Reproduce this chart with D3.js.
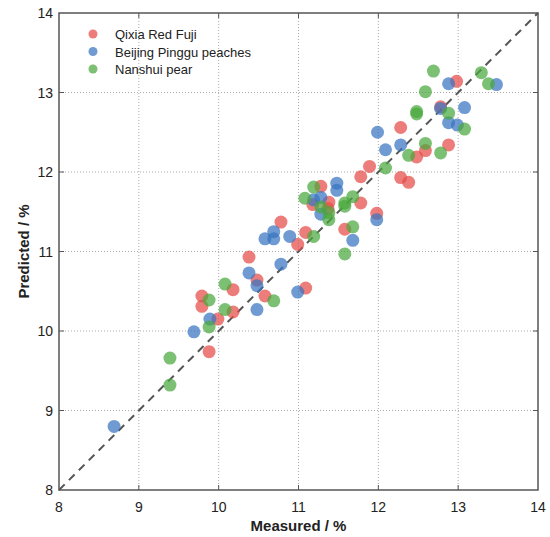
<!DOCTYPE html>
<html>
<head>
<meta charset="utf-8">
<script src="https://cdn.jsdelivr.net/npm/d3@7"></script>
<style>
body { margin: 0; background: #fff; }
text { font-family: "Liberation Sans", Arial, sans-serif; }
</style>
</head>
<body>
<script>
var width = 550, height = 537;
var margin = {top: 13, right: 12, bottom: 47, left: 59};

// series names and values [measured, predicted]
var seriesNames = ['Qixia Red Fuji', 'Beijing Pinggu peaches', 'Nanshui pear'];
var seriesColors = ['#e54b46', '#3775c0', '#4aa73d'];

var redFuji = [[9.79,10.44],[9.79,10.31],[9.99,10.15],[9.88,9.74],[10.18,10.52],[10.18,10.24],
  [10.38,10.93],[10.48,10.64],[10.58,10.44],[10.78,11.37],[11.09,11.24],[10.99,11.09],[11.09,10.54],
  [11.28,11.82],[11.18,11.59],[11.38,11.62],[11.37,11.54],[11.78,11.94],[11.89,12.07],[11.78,11.61],
  [11.98,11.48],[11.58,11.28],[12.98,13.14],[12.78,12.82],[12.28,12.56],[12.88,12.34],[12.59,12.27],
  [12.48,12.19],[12.28,11.93],[12.38,11.87]];
var pingguPeach = [[8.69,8.80],[9.69,9.99],[9.89,10.15],[10.48,10.27],[10.38,10.73],[10.48,10.57],
  [10.78,10.84],[10.99,10.49],[10.58,11.16],[10.69,11.16],[10.69,11.25],[10.89,11.19],[11.48,11.86],
  [11.48,11.77],[11.28,11.68],[11.19,11.65],[11.28,11.47],[11.68,11.14],[11.98,11.40],[11.99,12.50],
  [12.09,12.28],[12.28,12.34],[12.78,12.80],[12.88,12.62],[12.99,12.59],[13.08,12.81],[12.88,13.11],
  [13.48,13.10]];
var nanshuiPear = [[9.39,9.66],[9.39,9.32],[9.88,10.39],[9.88,10.05],[10.08,10.59],[10.08,10.27],
  [10.69,10.38],[11.19,11.19],[11.08,11.67],[11.19,11.81],[11.28,11.56],[11.38,11.49],[11.38,11.40],
  [11.58,11.61],[11.58,11.57],[11.68,11.69],[11.68,11.31],[11.58,10.97],[12.09,12.05],[12.69,13.27],
  [12.59,13.01],[13.29,13.25],[13.38,13.11],[12.48,12.76],[12.48,12.73],[12.88,12.74],[13.08,12.54],
  [12.59,12.36],[12.78,12.24],[12.38,12.21]];
var allSeries = [redFuji, pingguPeach, nanshuiPear];

var ticks = [8, 9, 10, 11, 12, 13, 14];

var svg = d3.select('body').append('svg').attr('width', width).attr('height', height);

var x = d3.scaleLinear().domain([8, 14]).range([margin.left, width - margin.right]);
var y = d3.scaleLinear().domain([8, 14]).range([height - margin.bottom, margin.top]);

// grid
var grid = svg.append('g').attr('stroke', '#aaa').attr('stroke-width', 1).attr('stroke-dasharray', '1,2');
grid.selectAll('.gx').data(ticks.slice(1, -1)).join('line')
  .attr('x1', d => x(d)).attr('x2', d => x(d))
  .attr('y1', y(8)).attr('y2', y(14));
grid.selectAll('.gy').data(ticks.slice(1, -1)).join('line')
  .attr('y1', d => y(d)).attr('y2', d => y(d))
  .attr('x1', x(8)).attr('x2', x(14));

// inward ticks on all sides
var tickG = svg.append('g').attr('stroke', '#555').attr('stroke-width', 1);
ticks.slice(1, -1).forEach(function(t) {
  tickG.append('line').attr('x1', x(t)).attr('x2', x(t)).attr('y1', y(8)).attr('y2', y(8) - 5);
  tickG.append('line').attr('x1', x(t)).attr('x2', x(t)).attr('y1', y(14)).attr('y2', y(14) + 5);
  tickG.append('line').attr('y1', y(t)).attr('y2', y(t)).attr('x1', x(8)).attr('x2', x(8) + 5);
  tickG.append('line').attr('y1', y(t)).attr('y2', y(t)).attr('x1', x(14)).attr('x2', x(14) - 5);
});

// diagonal 1:1 line
svg.append('line')
  .attr('x1', x(8)).attr('y1', y(8)).attr('x2', x(14)).attr('y2', y(14))
  .attr('stroke', '#555').attr('stroke-width', 2).attr('stroke-dasharray', '8,6');

// points
allSeries.forEach(function(data, i) {
  svg.append('g').selectAll('circle').data(data).join('circle')
    .attr('cx', d => x(d[0])).attr('cy', d => y(d[1]))
    .attr('r', 6.5)
    .attr('fill', seriesColors[i])
    .attr('fill-opacity', 0.72);
});

// frame
svg.append('rect')
  .attr('x', x(8)).attr('y', y(14))
  .attr('width', x(14) - x(8)).attr('height', y(8) - y(14))
  .attr('fill', 'none').attr('stroke', '#555').attr('stroke-width', 1.5);

// tick labels
svg.append('g').selectAll('text').data(ticks).join('text')
  .attr('x', d => x(d)).attr('y', y(8) + 22)
  .attr('text-anchor', 'middle').attr('font-size', 14).attr('fill', '#222')
  .text(d => d);
svg.append('g').selectAll('text').data(ticks).join('text')
  .attr('x', x(8) - 6).attr('y', d => y(d) + 5)
  .attr('text-anchor', 'end').attr('font-size', 14).attr('fill', '#222')
  .text(d => d);

// axis titles
svg.append('text')
  .attr('x', (x(8) + x(14)) / 2).attr('y', 531)
  .attr('text-anchor', 'middle').attr('font-size', 15).attr('font-weight', 'bold').attr('fill', '#222')
  .text('Measured / %');
svg.append('text')
  .attr('transform', 'translate(29,' + ((y(8) + y(14)) / 2) + ') rotate(-90)')
  .attr('text-anchor', 'middle').attr('font-size', 15).attr('font-weight', 'bold').attr('fill', '#222')
  .text('Predicted / %');

// legend
var legend = svg.append('g');
seriesNames.forEach(function(name, i) {
  legend.append('circle').attr('cx', 93).attr('cy', 34 + i * 17.5).attr('r', 4.5)
    .attr('fill', seriesColors[i]).attr('fill-opacity', 0.72);
  legend.append('text').attr('x', 115).attr('y', 39 + i * 17.5)
    .attr('font-size', 13).attr('fill', '#222').text(name);
});

console.log('ready..');
</script>
</body>
</html>
